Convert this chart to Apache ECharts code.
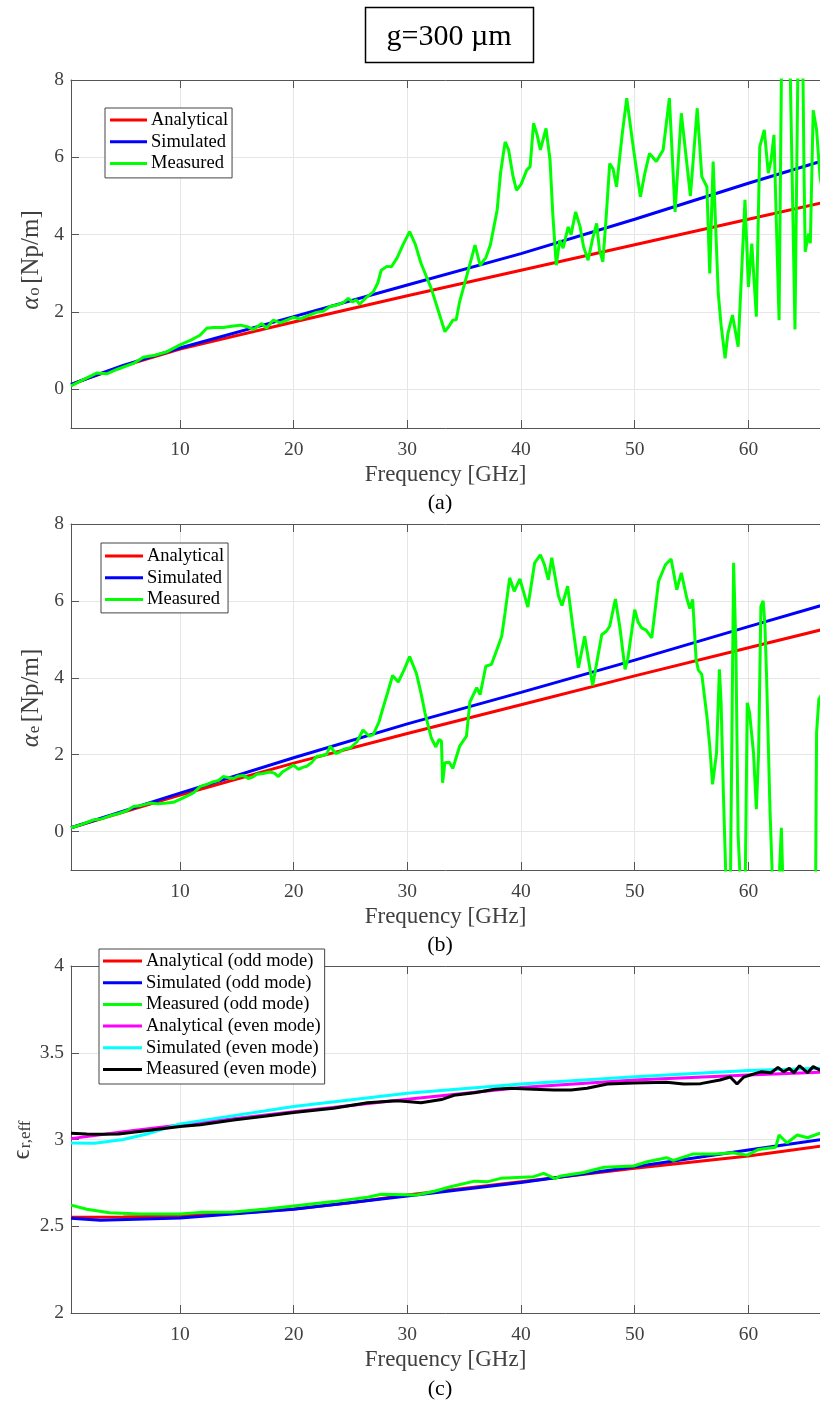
<!DOCTYPE html>
<html>
<head>
<meta charset="utf-8">
<script src="https://cdn.jsdelivr.net/npm/echarts@6/dist/echarts.min.js"></script>
<style>
  html, body { margin: 0; padding: 0; background: #fff; }
  #chart { width: 820px; height: 1404px; }
</style>
</head>
<body>
<div id="chart"></div>
<script>
// Frequency axis (GHz) and tick positions
const freqMin = 0.41;
const freqMax = 66.3;
const freqTicks = [10, 20, 30, 40, 50, 60];
const alphaTicks = [0, 2, 4, 6, 8];
const epsTicks = [2, 2.5, 3, 3.5, 4];

// (a) odd-mode attenuation alpha_o [Np/m]: [frequency GHz, value]
const alphaOddAnalytical = [[0.41,0.12],[2,0.3],[5,0.6],[10,1.04],[20,1.74],[30,2.42],[40,3.08],[50,3.74],[60,4.40],[67,4.86]];
const alphaOddSimulated = [[0.41,0.13],[2,0.3],[5,0.62],[10,1.07],[20,1.88],[30,2.70],[40,3.51],[50,4.40],[60,5.33],[67,5.95]];
const alphaOddMeasured = [
  [0.41,0.09],[1.5,0.25],[2.67,0.42],[3.55,0.40],[4.5,0.52],[5.9,0.67],[6.77,0.83],[7.8,0.88],[8.83,0.97],
  [10,1.15],[11.0,1.28],[11.76,1.40],[12.35,1.58],[12.93,1.60],[13.8,1.60],[14.7,1.64],[15.3,1.66],[15.9,1.62],
  [16.45,1.55],[17.2,1.70],[17.6,1.58],[18.2,1.79],[18.8,1.72],[19.5,1.80],[20,1.86],[20.6,1.82],[21.2,1.90],
  [22,1.99],[22.6,2.02],[23.2,2.14],[23.8,2.18],[24.4,2.25],[24.8,2.35],[25.2,2.26],[25.5,2.32],[25.8,2.20],
  [26.4,2.38],[27,2.52],[27.4,2.75],[27.7,3.08],[28.2,3.18],[28.6,3.17],[29.1,3.40],[29.6,3.73],[30.2,4.08],
  [30.7,3.75],[31.2,3.26],[31.7,2.90],[32.1,2.61],[32.7,2.05],[33.3,1.49],[33.7,1.65],[34.0,1.79],[34.3,1.80],
  [34.6,2.27],[35.2,2.91],[35.95,3.73],[36.4,3.21],[36.9,3.40],[37.3,3.73],[37.9,4.64],[38.2,5.6],[38.6,6.40],
  [38.9,6.2],[39.3,5.5],[39.6,5.15],[40.0,5.3],[40.5,5.67],[40.8,5.76],[41.1,6.88],[41.4,6.6],[41.7,6.19],
  [42.2,6.75],[42.55,5.93],[42.8,4.5],[43.1,3.21],[43.4,3.86],[43.7,3.65],[44.15,4.2],[44.4,4.0],[44.8,4.59],
  [45.2,4.2],[45.5,3.69],[45.9,3.34],[46.3,3.9],[46.65,4.29],[46.9,3.6],[47.2,3.30],[47.5,4.5],[47.8,5.84],
  [48.1,5.7],[48.4,5.24],[48.9,6.6],[49.3,7.53],[49.9,6.2],[50.5,4.98],[50.9,5.6],[51.3,6.10],[51.9,5.89],
  [52.5,6.19],[53.05,7.53],[53.55,4.59],[54.1,7.14],[54.9,5.0],[55.5,7.27],[55.9,5.5],[56.35,5.24],[56.6,3.0],
  [56.9,5.89],[57.35,2.48],[57.6,1.66],[57.95,0.80],[58.2,1.45],[58.6,1.92],[59.1,1.10],[59.7,4.90],[60.0,2.65],
  [60.3,3.77],[60.7,1.88],[61.0,6.27],[61.4,6.71],[61.75,5.59],[62.0,5.93],[62.25,6.58],[62.7,1.79],[62.95,9.5],
  [63.6,9.5],[64.1,1.55],[64.4,9.5],[64.75,9.5],[64.9,5.5],[65.0,3.56],[65.3,4.03],[65.45,3.78],[65.7,7.22],
  [66.0,6.71],[66.3,5.5],[66.6,5.0]
];

// (b) even-mode attenuation alpha_e [Np/m]
const alphaEvenAnalytical = [[0.41,0.1],[10,0.95],[20,1.78],[30,2.55],[40,3.3],[50,4.05],[60,4.78],[67,5.29]];
const alphaEvenSimulated = [[0.41,0.1],[10,1.0],[20,1.92],[30,2.8],[40,3.62],[50,4.46],[60,5.33],[67,5.93]];
const alphaEvenMeasured = [
  [0.41,0.10],[1.3,0.18],[2.37,0.30],[3.1,0.33],[3.84,0.41],[4.6,0.47],[5.3,0.54],[5.9,0.65],[6.6,0.68],
  [7.36,0.74],[8.1,0.72],[8.83,0.74],[9.4,0.76],[10,0.84],[10.6,0.92],[11.2,1.01],[11.76,1.17],[12.3,1.22],
  [12.9,1.29],[13.4,1.33],[13.8,1.43],[14.3,1.40],[14.7,1.38],[15.1,1.44],[15.6,1.46],[16.0,1.38],[16.4,1.42],
  [16.75,1.49],[17.3,1.51],[17.9,1.55],[18.3,1.52],[18.65,1.43],[19.0,1.55],[19.4,1.62],[20,1.73],[20.4,1.62],
  [20.8,1.67],[21.15,1.70],[21.6,1.80],[22.0,1.95],[22.5,1.98],[22.9,2.01],[23.2,2.22],[23.7,2.03],[24.0,2.06],
  [24.4,2.14],[25,2.18],[25.55,2.33],[26.1,2.64],[26.65,2.48],[27.0,2.52],[27.5,2.85],[27.9,3.26],[28.3,3.65],
  [28.7,4.06],[29.2,3.89],[29.7,4.20],[30.2,4.55],[30.8,4.11],[31.2,3.60],[31.55,3.09],[32.1,2.44],[32.5,2.20],
  [32.8,2.40],[33.0,2.35],[33.1,1.27],[33.3,1.79],[33.7,1.80],[34.0,1.64],[34.6,2.22],[35.2,2.48],[35.5,3.37],
  [36.1,3.74],[36.4,3.56],[36.9,4.30],[37.4,4.35],[37.9,4.75],[38.3,5.08],[38.6,5.7],[39.0,6.60],[39.4,6.25],
  [39.9,6.57],[40.6,5.84],[41.2,6.99],[41.7,7.20],[42.05,6.95],[42.4,6.55],[42.7,7.12],[43.3,6.12],[43.6,5.88],
  [44.1,6.38],[44.55,5.34],[45.05,4.26],[45.6,5.08],[46.3,3.80],[47.1,5.12],[47.5,5.21],[47.8,5.34],[48.3,6.05],
  [48.7,5.3],[49.15,4.22],[49.4,4.5],[50.0,5.77],[50.3,5.45],[50.6,5.30],[51.0,5.24],[51.5,5.04],[52.1,6.51],
  [52.7,6.94],[53.2,7.09],[53.7,6.29],[54.1,6.73],[54.6,6.05],[54.85,5.8],[55.1,6.04],[55.4,4.48],[55.6,4.2],
  [55.9,4.09],[56.35,3.0],[56.6,2.22],[56.85,1.23],[57.2,2.05],[57.45,4.22],[57.6,3.35],[57.8,1.0],[58.1,-2],
  [58.4,-2],[58.7,6.99],[58.9,4.8],[59.1,-0.11],[59.4,-2],[59.7,-2],[59.9,3.35],[60.1,3.1],[60.45,2.05],
  [60.7,0.58],[60.9,2.05],[61.1,5.86],[61.3,6.0],[61.45,5.4],[61.6,4.04],[61.9,0.58],[62.2,-2],[62.6,-2],
  [62.9,0.10],[63.1,-2],[65.9,-2],[66.0,2.57],[66.2,3.44],[66.5,3.6]
];

// (c) effective permittivity
const epsOddAnalytical = [[0.41,2.552],[5,2.553],[10,2.56],[15,2.575],[20,2.60],[25,2.635],[30,2.68],[40,2.757],[50,2.834],[60,2.905],[67,2.968]];
const epsOddSimulated = [[0.41,2.546],[3,2.535],[10,2.548],[20,2.598],[30,2.674],[40,2.752],[50,2.843],[60,2.94],[67,3.005]];
const epsOddMeasured = [
  [0.41,2.622],[1.8,2.598],[3.8,2.578],[6.5,2.57],[10,2.57],[11.8,2.58],[14.7,2.582],[17.6,2.60],[20,2.617],
  [23.5,2.642],[26.5,2.667],[27.7,2.684],[30.8,2.68],[32.3,2.70],[33.8,2.728],[35.9,2.76],[37.1,2.757],
  [38.2,2.776],[41.1,2.786],[42.0,2.805],[43.0,2.775],[43.5,2.79],[45.5,2.81],[47.3,2.84],[49.9,2.847],
  [51.1,2.872],[52.8,2.895],[53.4,2.88],[55.1,2.916],[57.1,2.916],[58.6,2.924],[59.9,2.91],[60.9,2.943],
  [62.4,2.955],[62.7,3.026],[63.4,2.98],[64.3,3.026],[65.2,3.01],[66.3,3.036],[67,3.04]
];
const epsEvenAnalytical = [[0.41,3.005],[5,3.045],[10,3.084],[20,3.16],[30,3.232],[40,3.30],[50,3.343],[60,3.372],[67,3.39]];
const epsEvenSimulated = [[0.41,2.98],[2.5,2.978],[5,3.0],[7,3.03],[10,3.09],[20,3.19],[30,3.266],[40,3.32],[50,3.362],[60,3.397],[67,3.412]];
const epsEvenMeasured = [
  [0.41,3.036],[1.8,3.032],[3.0,3.03],[4.6,3.032],[7.5,3.055],[10,3.075],[11.8,3.085],[14.7,3.112],[17.6,3.135],
  [20,3.155],[23.5,3.18],[26.5,3.212],[28.7,3.222],[29.4,3.222],[31.2,3.212],[33,3.23],[34.1,3.255],[35.9,3.27],
  [37.7,3.29],[39.1,3.295],[41.1,3.29],[42.9,3.285],[44.4,3.285],[45.8,3.295],[47.6,3.32],[49.9,3.325],
  [52.8,3.33],[54.3,3.32],[55.8,3.322],[57.5,3.343],[58.4,3.36],[59.0,3.32],[59.6,3.36],[60.5,3.378],
  [61.1,3.39],[62.0,3.385],[62.6,3.416],[63.1,3.39],[63.6,3.41],[64.0,3.385],[64.5,3.425],[65.2,3.385],
  [65.7,3.42],[66.3,3.40],[67,3.41]
];

const FONT = 'Liberation Serif';
const AXIS_COLOR = '#555555';
const TEXT_COLOR = '#404040';
const GRID_COLOR = '#e6e6e6';

// plot areas; the right-hand border of each box falls just outside the page
const grids = [
  { left: 71, top: 80, right: 0, height: 348 },
  { left: 71, top: 524, right: 0, height: 346 },
  { left: 71, top: 966, right: 0, height: 347 }
];

function bottomX(gridIndex) {
  return {
    type: 'value', gridIndex, position: 'bottom', min: freqMin, max: freqMax,
    name: 'Frequency [GHz]', nameLocation: 'middle', nameGap: 35,
    nameTextStyle: { fontFamily: FONT, fontSize: 23, color: TEXT_COLOR },
    axisLine: { show: true, onZero: false, lineStyle: { color: AXIS_COLOR, width: 1 } },
    axisTick: { show: true, inside: true, length: 8, customValues: freqTicks, lineStyle: { color: AXIS_COLOR } },
    axisLabel: { show: true, margin: 12, customValues: freqTicks, fontFamily: FONT, fontSize: 19.5, color: TEXT_COLOR },
    splitLine: { show: true, lineStyle: { color: GRID_COLOR, width: 1 } }
  };
}
function topX(gridIndex) {
  return {
    type: 'value', gridIndex, position: 'top', min: freqMin, max: freqMax,
    axisLine: { show: true, onZero: false, lineStyle: { color: AXIS_COLOR, width: 1 } },
    axisTick: { show: true, inside: true, length: 8, customValues: freqTicks, lineStyle: { color: AXIS_COLOR } },
    axisLabel: { show: false },
    splitLine: { show: false }
  };
}
function leftY(gridIndex, min, max, ticks) {
  return {
    type: 'value', gridIndex, min, max,
    axisLine: { show: true, onZero: false, lineStyle: { color: AXIS_COLOR, width: 1 } },
    axisTick: { show: true, inside: true, length: 8, customValues: ticks, lineStyle: { color: AXIS_COLOR } },
    axisLabel: { show: true, margin: 7, customValues: ticks, fontFamily: FONT, fontSize: 19.5, color: TEXT_COLOR,
      formatter: v => String(v) },
    splitLine: { show: true, lineStyle: { color: GRID_COLOR, width: 1 } }
  };
}

function line(name, data, color, axisIdx) {
  return {
    type: 'line', name, data, xAxisIndex: axisIdx.x, yAxisIndex: axisIdx.y,
    showSymbol: false, symbol: 'none', animation: false, clip: true,
    lineStyle: { color, width: 3 }, itemStyle: { color }
  };
}

// boxed legends with short line keys
function legend(left, top, padding, itemWidth, names) {
  return {
    orient: 'vertical', left, top, padding, itemWidth, itemHeight: 3, itemGap: 0.7, icon: 'rect',
    backgroundColor: '#ffffff', borderColor: '#444444', borderWidth: 1, borderRadius: 0,
    textStyle: { fontFamily: FONT, fontSize: 18.5, color: '#000000', lineHeight: 21, padding: [0, 0, 0, -1] },
    selectedMode: false, data: names
  };
}

const plainText = (text, x, y, size, color) => ({
  type: 'text', x, y,
  style: { text, fontFamily: FONT, fontSize: size, fill: color, align: 'center', verticalAlign: 'middle' }
});

// rotated y-axis titles with a subscript
function yName(x, y, text) {
  return {
    type: 'text', x, y, rotation: Math.PI / 2,
    style: {
      text, align: 'center', verticalAlign: 'middle', fill: TEXT_COLOR,
      rich: {
        g: { fontFamily: FONT, fontStyle: 'italic', fontSize: 25, lineHeight: 25, verticalAlign: 'top', fill: TEXT_COLOR },
        t: { fontFamily: FONT, fontSize: 25, lineHeight: 25, verticalAlign: 'top', fill: TEXT_COLOR },
        s: { fontFamily: FONT, fontSize: 17, lineHeight: 17, padding: [14, 0, 0, 1], verticalAlign: 'bottom', fill: TEXT_COLOR }
      }
    }
  };
}

const chart = echarts.init(document.getElementById('chart'), null, { renderer: 'canvas' });
chart.setOption({
  backgroundColor: '#ffffff',
  animation: false,
  grid: grids,
  xAxis: [bottomX(0), topX(0), bottomX(1), topX(1), bottomX(2), topX(2)],
  yAxis: [
    leftY(0, -1, 8, alphaTicks),
    leftY(1, -1, 8, alphaTicks),
    leftY(2, 2, 4, epsTicks)
  ],
  legend: [
    legend(105, 108, [1.5, 4, 4, 5], 37, ['Analytical', 'Simulated', 'Measured']),
    legend(101, 543, [2.5, 4, 3, 4], 38, ['Analytical', 'Simulated', 'Measured']),
    legend(99, 949, [1.5, 4, 4, 4], 39, [
      'Analytical (odd mode)', 'Simulated (odd mode)', 'Measured (odd mode)',
      'Analytical (even mode)', 'Simulated (even mode)', 'Measured (even mode)'
    ])
  ],
  series: [
    line('Analytical', alphaOddAnalytical, '#ff0000', { x: 0, y: 0 }),
    line('Simulated', alphaOddSimulated, '#0000ff', { x: 0, y: 0 }),
    line('Measured', alphaOddMeasured, '#00ff00', { x: 0, y: 0 }),
    line('Analytical', alphaEvenAnalytical, '#ff0000', { x: 2, y: 1 }),
    line('Simulated', alphaEvenSimulated, '#0000ff', { x: 2, y: 1 }),
    line('Measured', alphaEvenMeasured, '#00ff00', { x: 2, y: 1 }),
    line('Analytical (odd mode)', epsOddAnalytical, '#ff0000', { x: 4, y: 2 }),
    line('Simulated (odd mode)', epsOddSimulated, '#0000ff', { x: 4, y: 2 }),
    line('Measured (odd mode)', epsOddMeasured, '#00ff00', { x: 4, y: 2 }),
    line('Analytical (even mode)', epsEvenAnalytical, '#ff00ff', { x: 4, y: 2 }),
    line('Simulated (even mode)', epsEvenSimulated, '#00ffff', { x: 4, y: 2 }),
    line('Measured (even mode)', epsEvenMeasured, '#000000', { x: 4, y: 2 })
  ],
  graphic: [
    {
      type: 'rect', shape: { x: 365.5, y: 7.5, width: 168, height: 55 },
      style: { fill: '#ffffff', stroke: '#000000', lineWidth: 1.5 }
    },
    plainText('g=300 \u00b5m', 449, 37, 30, '#000000'),
    yName(31, 260, '{g|\u03b1}{s|o} {t|[Np/m]}'),
    yName(31, 698, '{g|\u03b1}{s|e} {t|[Np/m]}'),
    yName(22, 1140, '{t|\u03f5}{s|r,eff}'),
    plainText('(a)', 440, 503, 22, '#000000'),
    plainText('(b)', 440, 945, 22, '#000000'),
    plainText('(c)', 440, 1389, 22, '#000000')
  ]
});
</script>
</body>
</html>
